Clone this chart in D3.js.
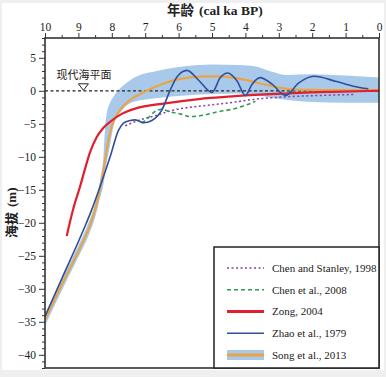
<!DOCTYPE html>
<html>
<head>
<meta charset="utf-8">
<script src="https://cdn.jsdelivr.net/npm/d3@7"></script>
<style>
  html, body { margin: 0; padding: 0; background: #efefef; }
  svg { display: block; }
  .serif { font-family: "Times New Roman", "Liberation Serif", Times, serif; }
</style>
</head>
<body>
<div id="chart"></div>
<script>
// ages in cal ka BP, elevations in m
const songAge   = [10, 9.5, 9, 8.7, 8.5, 8.35, 8.2, 8.1, 8.0, 7.75, 7.45, 6.95, 6.45, 5.95, 5.25, 4.75, 4.15, 3.55, 2.95, 2.55, 2, 1, 0];
const songValue = [-34.7, -29.4, -24.3, -21, -18, -14.8, -10.5, -7.4, -5.3, -2.9, -1.4, 0, 1.1, 1.8, 2.2, 2.2, 1.8, 1.1, 0.45, 0.2, 0.15, 0.1, 0.1];

const bandAge   = [10, 9.5, 9, 8.7, 8.5, 8.35, 8.25, 8.2, 8.15, 8.05, 7.95, 7.7, 7.45, 7.1, 6.75, 6.0, 5.0, 4.2, 3.7, 3.2, 2.75, 2.0, 1.0, 0];
const bandUpper = [-33.8, -28.6, -23.4, -20, -17, -13.5, -10, -5.5, -3.4, -1.8, -0.9, 0.6, 1.6, 2.5, 2.9, 3.6, 4.0, 3.9, 3.7, 2.9, 2.4, 2.5, 2.3, 2.0];
const bandLower = [-35.6, -30.3, -25.2, -22, -19.2, -16.2, -14.2, -12.5, -10.8, -8.2, -5.4, -3.0, -1.9, -1.4, -1.15, -0.8, -0.5, -0.4, -0.6, -1.1, -1.4, -1.7, -1.8, -1.8];

const zhaoAge   = [10, 9.5, 8.85, 8.6, 8.35, 8.05, 7.8, 7.65, 7.45, 7.3, 7.05, 6.8, 6.5, 6.26, 6.05, 5.75, 5.4, 5.0, 4.75, 4.53, 4.25, 4.0, 3.8, 3.56, 3.2, 2.8, 2.4, 1.95, 1.27, 0.77, 0.32];
const zhaoValue = [-34.2, -28.5, -21.1, -18, -14.5, -10, -6, -4.9, -4.5, -4.4, -4.85, -4.5, -2.9, 0, 2.1, 3.1, 1.6, -0.25, 2.0, 2.7, 1.5, -0.7, 1.0, 2.0, 1.0, -0.7, 1.2, 2.2, 1.4, 0.7, 0.3];

const zongAge   = [9.35, 9.15, 8.95, 8.8, 8.65, 8.45, 8.25, 8.0, 7.7, 7.3, 6.4, 5.4, 4.4, 3.4, 2.4, 1.4, 0];
const zongValue = [-22, -17.8, -14.5, -11.8, -9.3, -7, -5.6, -4.5, -3.5, -2.7, -1.9, -1.25, -0.85, -0.55, -0.3, -0.15, 0];

const chen08Age   = [7.1, 6.95, 6.75, 6.5, 6.25, 5.95, 5.65, 5.25, 4.85, 4.4, 4.0, 3.7];
const chen08Value = [-4.9, -4.3, -3.3, -2.8, -3.2, -3.5, -3.9, -3.7, -3.2, -2.8, -2.2, -1.6];

const chenStanAge   = [7.6, 7.15, 6.65, 6.15, 5.65, 5.15, 4.6, 3.75, 2.75, 1.75, 0.75];
const chenStanValue = [-5.3, -4.4, -3.7, -2.9, -2.5, -2.2, -1.9, -1.3, -0.9, -0.7, -0.55];

const xTicks = [10, 9, 8, 7, 6, 5, 4, 3, 2, 1, 0];
const yTicks = [5, 0, -5, -10, -15, -20, -25, -30, -35, -40];
const legendLabels = ["Chen and Stanley, 1998", "Chen et al., 2008", "Zong, 2004", "Zhao et al., 1979", "Song et al., 2013"];

const W = 386, H = 377;
const cjk = "Noto Sans CJK SC, sans-serif";
const x = d3.scaleLinear().domain([10, 0]).range([45, 379]);
const y = d3.scaleLinear().domain([-42, 8]).range([368, 38]);

const svg = d3.select("#chart").append("svg").attr("width", W).attr("height", H);

svg.append("rect").attr("x", 2).attr("y", 3).attr("width", 382).attr("height", 367).attr("fill", "#fff");

svg.append("clipPath").attr("id", "plotclip")
  .append("rect").attr("x", 45).attr("y", 38).attr("width", 334).attr("height", 330);

const plot = svg.append("g").attr("clip-path", "url(#plotclip)");

// Song et al. band
const bandData = bandAge.map((a, i) => ({ a, lo: bandLower[i], hi: bandUpper[i] }));
plot.append("path")
  .datum(bandData)
  .attr("fill", "#a8c9ea")
  .attr("d", d3.area().curve(d3.curveMonotoneX).x(d => x(d.a)).y0(d => y(d.lo)).y1(d => y(d.hi)));

// zero line
plot.append("line")
  .attr("x1", x(10)).attr("x2", x(0)).attr("y1", y(0)).attr("y2", y(0))
  .attr("stroke", "#222").attr("stroke-width", 1.2).attr("stroke-dasharray", "3,2.5");

const line = d3.line().curve(d3.curveMonotoneX).x(d => x(d[0])).y(d => y(d[1]));
const zip = (a, v) => a.map((d, i) => [d, v[i]]);

const series = [
  { a: chenStanAge, v: chenStanValue, color: "#8b3fa0", w: 1.5, dash: "2,2.5" },
  { a: chen08Age, v: chen08Value, color: "#2f9a52", w: 1.6, dash: "4,3" },
  { a: songAge, v: songValue, color: "#e9a446", w: 2.2, dash: null },
  { a: zongAge, v: zongValue, color: "#e0202c", w: 2.2, dash: null },
  { a: zhaoAge, v: zhaoValue, color: "#2d4f9c", w: 1.6, dash: null },
];

series.forEach(s => {
  plot.append("path")
    .datum(zip(s.a, s.v))
    .attr("fill", "none")
    .attr("stroke", s.color)
    .attr("stroke-width", s.w)
    .attr("stroke-dasharray", s.dash)
    .attr("stroke-linejoin", "round")
    .attr("d", line);
});

// modern sea level label
svg.append("text")
  .attr("x", 84).attr("y", 79)
  .attr("text-anchor", "middle")
  .attr("font-family", cjk)
  .attr("font-size", 11)
  .attr("fill", "#222")
  .text("现代海平面");
svg.append("path")
  .attr("d", `M${x(8.85) - 5},${y(0) - 7} L${x(8.85) + 5},${y(0) - 7} L${x(8.85)},${y(0) - 0.5} Z`)
  .attr("fill", "#fff").attr("stroke", "#222").attr("stroke-width", 1);

// axes
const topAxis = svg.append("g").attr("transform", "translate(0,38)")
  .call(d3.axisTop(x).tickValues(xTicks).tickFormat(d3.format("d")).tickSize(5).tickSizeOuter(0));
svg.append("g").attr("transform", "translate(0,38)")
  .call(d3.axisTop(x).tickValues(d3.range(0.5, 10, 1)).tickFormat("").tickSize(3).tickSizeOuter(0));

const leftAxis = svg.append("g").attr("transform", "translate(45,0)")
  .call(d3.axisLeft(y).tickValues(yTicks).tickSize(6).tickSizeOuter(0).tickFormat(d3.format("d")));
svg.append("g").attr("transform", "translate(45,0)")
  .call(d3.axisLeft(y).tickValues(d3.range(-42, 9, 1).filter(v => v % 5 !== 0)).tickFormat("").tickSize(3).tickSizeOuter(0));

[topAxis, leftAxis].forEach(g => g.attr("font-family", null).attr("font-size", 11.5));
svg.selectAll(".domain").attr("stroke", "none");
svg.selectAll(".tick line").attr("stroke", "#333").attr("stroke-width", 1);
svg.selectAll(".tick text").attr("class", "serif").attr("fill", "#222");
topAxis.selectAll(".tick text").attr("dy", "0.05em");
leftAxis.selectAll(".tick text").attr("x", -9);

// frame
svg.append("rect")
  .attr("x", 45).attr("y", 38).attr("width", 334).attr("height", 330)
  .attr("fill", "none").attr("stroke", "#333").attr("stroke-width", 1.6);

// axis titles
svg.append("text")
  .attr("x", 194).attr("y", 15)
  .attr("text-anchor", "end")
  .attr("font-family", cjk)
  .attr("font-weight", "bold")
  .attr("font-size", 13.5)
  .attr("fill", "#222")
  .text("年龄");
svg.append("text")
  .attr("class", "serif")
  .attr("x", 199).attr("y", 15)
  .attr("font-weight", "bold")
  .attr("font-size", 13.5)
  .attr("fill", "#222")
  .text("(cal ka BP)");

const ytitle = svg.append("g").attr("transform", "translate(16,208) rotate(-90)");
ytitle.append("text")
  .attr("x", -4)
  .attr("text-anchor", "end")
  .attr("font-family", cjk)
  .attr("font-weight", "bold")
  .attr("font-size", 13)
  .attr("fill", "#222")
  .text("海拔");
ytitle.append("text")
  .attr("class", "serif")
  .attr("x", 1)
  .attr("font-weight", "bold")
  .attr("font-size", 13)
  .attr("fill", "#222")
  .text("(m)");

// legend
const legend = svg.append("g");
legend.append("rect")
  .attr("x", 214).attr("y", 247).attr("width", 165).attr("height", 121)
  .attr("fill", "#fff").attr("stroke", "#222").attr("stroke-width", 1.5);

const legendY = d3.scalePoint().domain(legendLabels).range([268, 355]);
const legendSeries = [series[0], series[1], series[3], series[4], series[2]];

legendLabels.forEach((lab, i) => {
  const yy = legendY(lab);
  const s = legendSeries[i];
  if (i === 4) {
    legend.append("rect").attr("x", 227).attr("y", yy - 5).attr("width", 37).attr("height", 10).attr("fill", "#a8c9ea");
  }
  legend.append("line")
    .attr("x1", 227).attr("x2", 264).attr("y1", yy).attr("y2", yy)
    .attr("stroke", s.color)
    .attr("stroke-width", i === 2 || i === 4 ? 3 : s.w)
    .attr("stroke-dasharray", s.dash);
  legend.append("text")
    .attr("class", "serif")
    .attr("x", 272).attr("y", yy).attr("dy", "0.35em")
    .attr("font-size", 11)
    .attr("fill", "#222")
    .text(lab);
});
</script>
</body>
</html>
